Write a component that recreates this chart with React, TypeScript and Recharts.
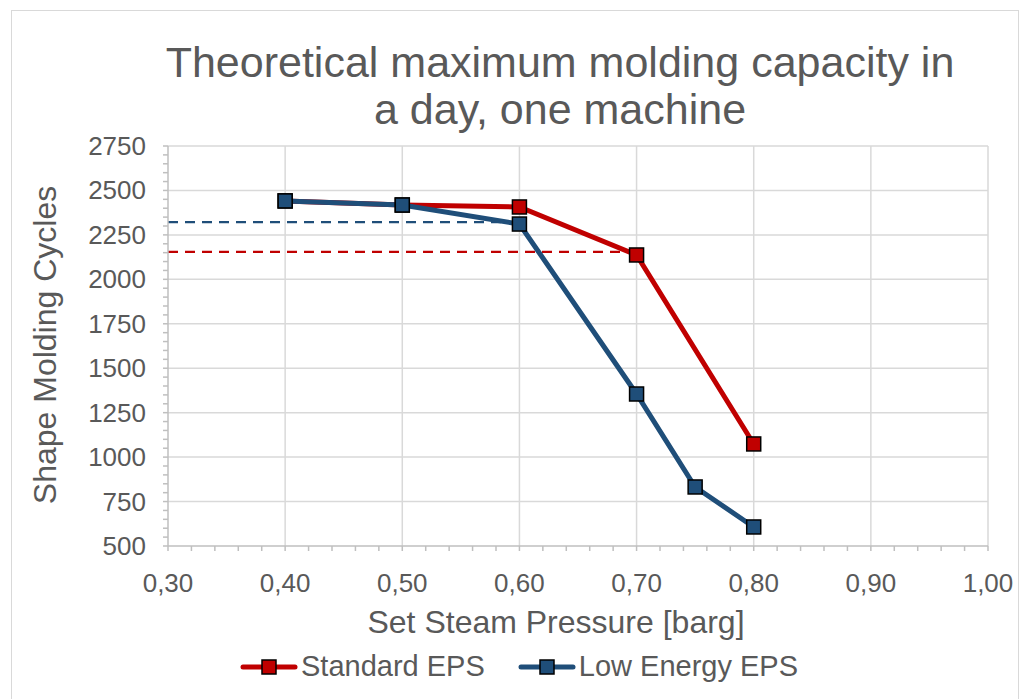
import { LineChart, Line, XAxis, YAxis, ReferenceLine } from 'recharts'

const pressure = [0.4, 0.5, 0.6, 0.7, 0.8]
const standardCycles = [2441, 2418, 2407, 2137, 1074]

const lowPressure = [0.4, 0.5, 0.6, 0.7, 0.75, 0.8]
const lowCycles = [2441, 2418, 2311, 1355, 832, 607]

// dashed guide levels and where they stop
const lowGuide = { level: 2322, from: 0.3, to: 0.59 }
const stdGuide = { level: 2155, from: 0.3, to: 0.695 }

const xMajor = [0.3, 0.4, 0.5, 0.6, 0.7, 0.8, 0.9, 1.0]
const yMajor = [500, 750, 1000, 1250, 1500, 1750, 2000, 2250, 2500, 2750]

const xMinor: number[] = []
for (let i = 30; i <= 100; i += 2) xMinor.push(i / 100)
const yMinor: number[] = []
for (let v = 500; v <= 2750; v += 50) yMinor.push(v)

const RED = '#C00000'
const BLUE = '#1F4E79'
const TEXT = '#595959'
const FONT = '"Liberation Sans", Arial, sans-serif'

const standardData = pressure.map((x, i) => ({ x, y: standardCycles[i] }))
const lowData = lowPressure.map((x, i) => ({ x, y: lowCycles[i] }))
const lowGuideData = [
  { x: lowGuide.from, y: lowGuide.level },
  { x: lowGuide.to, y: lowGuide.level },
]
const stdGuideData = [
  { x: stdGuide.from, y: stdGuide.level },
  { x: stdGuide.to, y: stdGuide.level },
]

const squareDot = (fill: string) => (props: any) => {
  const { cx, cy, key } = props
  if (cx == null || cy == null) return <g key={key} />
  return (
    <rect
      key={key}
      x={cx - 7}
      y={cy - 7}
      width={14}
      height={14}
      fill={fill}
      stroke="#000"
      strokeWidth={1.5}
    />
  )
}

const XTick = (props: any) => {
  const { x, y, payload } = props
  const v = payload.value
  if (Math.round(v * 100) % 10 !== 0) return <g />
  return (
    <text x={x} y={y} dy={29} textAnchor="middle" fill={TEXT} fontSize={26} fontFamily={FONT}>
      {v.toFixed(2).replace('.', ',')}
    </text>
  )
}

const YTick = (props: any) => {
  const { x, y, payload } = props
  const v = payload.value
  if (v % 250 !== 0) return <g />
  return (
    <text x={x} y={y} dy={9} textAnchor="end" fill={TEXT} fontSize={26} fontFamily={FONT}>
      {v}
    </text>
  )
}

function LegendItem({ color, label }: { color: string; label: string }) {
  return (
    <div style={{ display: 'flex', alignItems: 'center', gap: 3 }}>
      <svg width={58} height={20}>
        <line x1={3} y1={10} x2={55} y2={10} stroke={color} strokeWidth={5} strokeLinecap="round" />
        <rect x={22} y={3} width={14} height={14} fill={color} stroke="#000" strokeWidth={1.5} />
      </svg>
      <span>{label}</span>
    </div>
  )
}

export default function App() {
  return (
    <div
      style={{
        position: 'absolute',
        left: 0,
        top: 0,
        width: 1029,
        height: 699,
        background: '#fff',
        fontFamily: FONT,
        color: TEXT,
        overflow: 'hidden',
      }}
    >
      <div
        style={{
          position: 'absolute',
          left: 11,
          top: 10,
          width: 1006,
          height: 700,
          border: '1px solid #d9d9d9',
        }}
      />
      <div
        style={{
          position: 'absolute',
          left: 60,
          width: 1000,
          top: 39,
          textAlign: 'center',
          fontSize: 43,
          lineHeight: '47px',
        }}
      >
        Theoretical maximum molding capacity in
        <br />a day, one machine
      </div>

      <div style={{ position: 'absolute', left: 0, top: 0 }}>
        <LineChart width={1029} height={699} margin={{ top: 146, right: 41, left: 68, bottom: 93 }}>
          <XAxis
            type="number"
            dataKey="x"
            domain={[0.3, 1.0]}
            ticks={xMinor}
            interval={0}
            height={60}
            tickSize={5}
            tickMargin={12}
            stroke="#bfbfbf"
            strokeWidth={1.5}
            tick={<XTick />}
            allowDataOverflow
          />
          <YAxis
            type="number"
            dataKey="y"
            domain={[500, 2750]}
            ticks={yMinor}
            interval={0}
            width={100}
            tickSize={5}
            tickMargin={17}
            stroke="#bfbfbf"
            strokeWidth={1.5}
            tick={<YTick />}
            allowDataOverflow
          />
          {xMajor.slice(1).map((v) => (
            <ReferenceLine key={'gx' + v} x={v} stroke="#d9d9d9" strokeWidth={1.5} />
          ))}
          {yMajor.slice(1).map((v) => (
            <ReferenceLine key={'gy' + v} y={v} stroke="#d9d9d9" strokeWidth={1.5} />
          ))}
          <Line
            data={lowGuideData}
            dataKey="y"
            stroke={BLUE}
            strokeWidth={2.2}
            strokeDasharray="10 7"
            dot={false}
            isAnimationActive={false}
          />
          <Line
            data={stdGuideData}
            dataKey="y"
            stroke={RED}
            strokeWidth={2.2}
            strokeDasharray="10 7"
            dot={false}
            isAnimationActive={false}
          />
          <Line
            data={standardData}
            dataKey="y"
            name="Standard EPS"
            stroke={RED}
            strokeWidth={5}
            dot={squareDot(RED)}
            isAnimationActive={false}
          />
          <Line
            data={lowData}
            dataKey="y"
            name="Low Energy EPS"
            stroke={BLUE}
            strokeWidth={5}
            dot={squareDot(BLUE)}
            isAnimationActive={false}
          />
        </LineChart>
      </div>

      <div
        style={{
          position: 'absolute',
          left: 45,
          top: 345,
          transform: 'translate(-50%, -50%) rotate(-90deg)',
          whiteSpace: 'nowrap',
          fontSize: 32,
        }}
      >
        Shape Molding Cycles
      </div>
      <div
        style={{
          position: 'absolute',
          left: 56,
          width: 1000,
          top: 604,
          textAlign: 'center',
          fontSize: 32,
        }}
      >
        Set Steam Pressure [barg]
      </div>
      <div
        style={{
          position: 'absolute',
          left: 19,
          width: 1000,
          top: 650,
          display: 'flex',
          justifyContent: 'center',
          gap: 33,
          fontSize: 29,
        }}
      >
        <LegendItem color={RED} label="Standard EPS" />
        <LegendItem color={BLUE} label="Low Energy EPS" />
      </div>
    </div>
  )
}
